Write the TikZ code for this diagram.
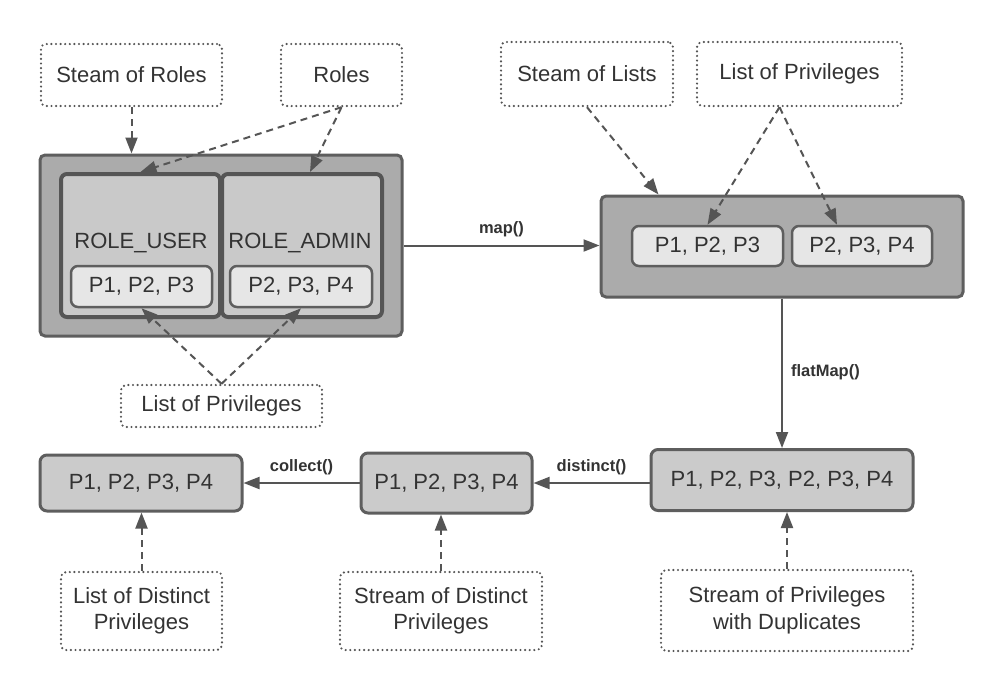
\documentclass[tikz,border=0pt]{standalone}
\usepackage{fontspec}
\setmainfont{Liberation Sans}
\usetikzlibrary{arrows.meta}
\definecolor{txt}{HTML}{333333}
\definecolor{notec}{HTML}{555555}
\definecolor{bordc}{HTML}{5E5E5E}
\definecolor{rolec}{HTML}{555555}
\definecolor{outerc}{HTML}{ABABAB}
\definecolor{rolefill}{HTML}{C9C9C9}
\definecolor{pfill}{HTML}{E6E6E6}
\definecolor{opfill}{HTML}{CBCBCB}
\definecolor{linec}{HTML}{555555}
\begin{document}
\begin{tikzpicture}[x=1pt,y=-1pt,
  base/.style={inner sep=0pt, text=txt, font=\fontsize{22}{26.5}\selectfont, align=center},
  note/.style={base, draw=notec, line width=2.4pt, dash pattern=on 0pt off 4.6pt, line cap=round, rounded corners=5pt, fill=white},
  outer/.style={base, draw=bordc, line width=3pt, fill=outerc, rounded corners=5pt},
  rolebox/.style={base, draw=rolec, line width=4pt, fill=rolefill, rounded corners=6pt},
  pbox/.style={base, draw=bordc, line width=2.5pt, fill=pfill, rounded corners=7pt},
  opbox/.style={base, draw=bordc, line width=3pt, fill=opfill, rounded corners=7pt},
  flow/.style={draw=linec, line width=2pt, -{Triangle[length=16pt,width=12pt]}},
  dflow/.style={flow, dash pattern=on 7pt off 5pt},
  lbl/.style={text=txt, font=\fontsize{16.5}{20}\bfseries\selectfont, inner sep=0pt}
]
\fill[white] (0,0) rectangle (1003,691);
\useasboundingbox (0,0) rectangle (1003,691);

% top-left group
\node[note, minimum width=181pt, minimum height=62pt] (sRoles) at (131.5,75) {Steam of Roles};
\node[note, minimum width=121pt, minimum height=62pt] (roles) at (341.5,75) {Roles};
\node[outer, minimum width=362pt, minimum height=181pt] (outerL) at (221,245.5) {};
\node[rolebox, minimum width=159pt, minimum height=143pt] (rUser) at (140.5,245.5) {};
\node[rolebox, minimum width=160pt, minimum height=143pt] (rAdmin) at (302,245.5) {};
\node[base] (tU) at (141,243) {ROLE\_USER};
\node[base] (tA) at (300,243) {ROLE\_ADMIN};
\node[pbox, minimum width=141pt, minimum height=41pt] (pU) at (141.5,286.5) {P1, P2, P3};
\node[pbox, minimum width=142pt, minimum height=41pt] (pA) at (301,286.5) {P2, P3, P4};
\node[note, minimum width=201pt, minimum height=42pt] (lpL) at (221.5,406) {List of Privileges};

% top-right group
\node[note, minimum width=172pt, minimum height=64pt] (sLists) at (587,74) {Steam of Lists};
\node[note, minimum width=205pt, minimum height=64pt] (lpR) at (799.5,74) {List of Privileges};
\node[outer, minimum width=362pt, minimum height=101pt] (outerR) at (782,246.5) {};
\node[pbox, minimum width=151pt, minimum height=40pt] (pR1) at (707.5,246) {P1, P2, P3};
\node[pbox, minimum width=140pt, minimum height=40pt] (pR2) at (862,246) {P2, P3, P4};

% bottom row
\node[opbox, minimum width=262pt, minimum height=61pt] (dup) at (782,480) {P1, P2, P3, P2, P3, P4};
\node[opbox, minimum width=171pt, minimum height=60pt] (dist) at (446.5,483) {P1, P2, P3, P4};
\node[opbox, minimum width=202pt, minimum height=56pt] (coll) at (141,483) {P1, P2, P3, P4};
\node[note, minimum width=252pt, minimum height=81pt] (nDup) at (787,610.5) {Stream of Privileges\\with Duplicates};
\node[note, minimum width=202pt, minimum height=78pt] (nDist) at (441,611) {Stream of Distinct\\Privileges};
\node[note, minimum width=161pt, minimum height=78pt] (nColl) at (141.5,611) {List of Distinct\\Privileges};

% dashed connectors
\draw[dflow] (sRoles.south) -- (sRoles.south |- outerL.north);
\draw[dflow] (roles.south) -- (rUser.north);
\draw[dflow] (roles.south) -- ([xshift=8pt]rAdmin.north);
\draw[dflow] (lpL.north) -- (pU.south);
\draw[dflow] (lpL.north) -- (pA.south);
\draw[dflow] (sLists.south) -- ([xshift=59pt]outerR.north west);
\draw[dflow] ([xshift=-20pt]lpR.south) -- (pR1.north);
\draw[dflow] ([xshift=-20pt]lpR.south) -- ([xshift=-25pt]pR2.north);
\draw[dflow] (nDup.north) -- (nDup.north |- dup.south);
\draw[dflow] (nDist.north) -- (nDist.north |- dist.south);
\draw[dflow] (nColl.north) -- (nColl.north |- coll.south);

% solid connectors
\draw[flow] (outerL.east) -- (outerL.east -| outerR.west) node[lbl, midway, yshift=16pt] (lmap) {map()};
\draw[flow] (outerR.south) -- (dup.north) node[lbl, pos=0.49, anchor=west, xshift=8pt] (lflat) {flatMap()};
\draw[flow] (dist.east -| dup.west) -- (dist.east) node[lbl, midway, yshift=16pt] (ldist) {distinct()};
\draw[flow] (dist.west) -- (coll.east) node[lbl, midway, yshift=16pt] (lcoll) {collect()};
\end{tikzpicture}
\end{document}
